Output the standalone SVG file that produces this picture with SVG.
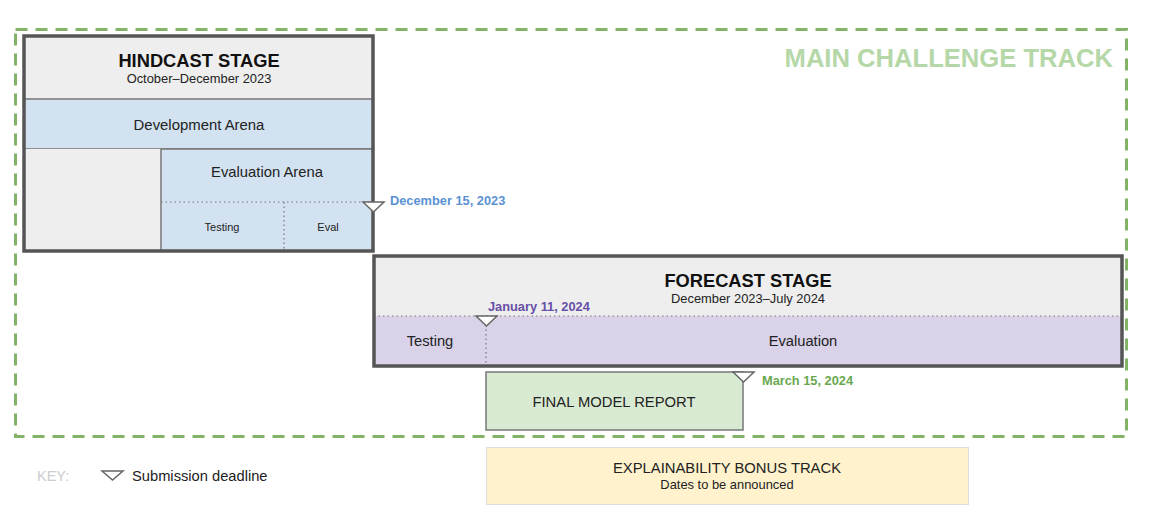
<svg xmlns="http://www.w3.org/2000/svg" width="1164" height="516" viewBox="0 0 1164 516">
<defs>
<style>
text{font-family:"Liberation Sans",Arial,sans-serif;fill:#222}
.b{font-weight:bold}
.stage{fill:none;stroke:#555;stroke-width:3.5}
.thin{stroke:#777;stroke-width:1.5}
.dot{stroke:#777;stroke-width:1.2;stroke-dasharray:1.5 3;fill:none}
.tri{fill:#fff;stroke:#666;stroke-width:1.5}
</style>
</defs>
<rect width="1164" height="516" fill="#fff"/>
<g id="main-track">
<rect x="15.5" y="29.5" width="1111" height="407" fill="none" stroke="#82b366" stroke-width="3" stroke-dasharray="12 8"/>
<text x="1113" y="67" text-anchor="end" class="b" font-size="25.6" style="fill:#b6d7a8">MAIN CHALLENGE TRACK</text>
</g>
<g id="hindcast">
<rect x="24" y="36" width="349" height="63" fill="#eeeeee"/>
<rect x="24" y="99" width="349" height="50" fill="#d3e2f1" class="thin"/>
<rect x="24" y="149" width="137" height="102" fill="#eeeeee"/>
<rect x="161" y="149" width="212" height="102" fill="#d3e2f1" class="thin"/>
<line x1="161" y1="202" x2="373" y2="202" class="dot"/>
<line x1="284" y1="202" x2="284" y2="251" class="dot"/>
<rect x="24" y="36" width="349" height="215" class="stage"/>
<text x="199" y="67" text-anchor="middle" class="b" font-size="18.3" style="fill:#111">HINDCAST STAGE</text>
<text x="199" y="83" text-anchor="middle" font-size="12.9">October–December 2023</text>
<text x="199" y="130" text-anchor="middle" font-size="14.9">Development Arena</text>
<text x="267" y="177" text-anchor="middle" font-size="14.8">Evaluation Arena</text>
<text x="222" y="231" text-anchor="middle" font-size="11">Testing</text>
<text x="328" y="231" text-anchor="middle" font-size="11">Eval</text>
</g>
<g id="deadline-dec15">
<polygon points="363,202 384,202 373.5,212" class="tri"/>
<text x="390" y="205" class="b" font-size="12.8" style="fill:#5b92d3">December 15, 2023</text>
</g>
<g id="forecast">
<rect x="374" y="256" width="748" height="60" fill="#eeeeee"/>
<rect x="374" y="316" width="748" height="50" fill="#d9d2e9"/>
<line x1="374" y1="316" x2="1122" y2="316" class="dot"/>
<line x1="486" y1="316" x2="486" y2="366" class="dot"/>
<rect x="374" y="256" width="748" height="110" class="stage"/>
<text x="748" y="287" text-anchor="middle" class="b" font-size="18.3" style="fill:#111">FORECAST STAGE</text>
<text x="748" y="303" text-anchor="middle" font-size="12.9">December 2023–July 2024</text>
<text x="430" y="346" text-anchor="middle" font-size="14.7">Testing</text>
<text x="803" y="346" text-anchor="middle" font-size="14.7">Evaluation</text>
</g>
<g id="deadline-jan11">
<polygon points="476,316 497,316 486.5,326" class="tri"/>
<text x="488" y="311" class="b" font-size="12.8" style="fill:#674ea7">January 11, 2024</text>
</g>
<g id="final-report">
<rect x="486" y="372" width="257" height="58" fill="#d9ead3" class="thin"/>
<text x="614" y="407" text-anchor="middle" font-size="14.8">FINAL MODEL REPORT</text>
</g>
<g id="deadline-mar15">
<polygon points="733,372 754,372 743.5,382" class="tri"/>
<text x="762" y="385" class="b" font-size="12.8" style="fill:#6aa84f">March 15, 2024</text>
</g>
<g id="bonus-track">
<rect x="486.5" y="447.5" width="482" height="57" fill="#fff2cc" stroke="#ddd" stroke-width="1"/>
<text x="727" y="473" text-anchor="middle" font-size="14.8">EXPLAINABILITY BONUS TRACK</text>
<text x="727" y="489" text-anchor="middle" font-size="12.9">Dates to be announced</text>
</g>
<g id="key">
<text x="37" y="481" font-size="14.5" style="fill:#cccccc">KEY:</text>
<polygon points="102,471 123,471 112.5,480" class="tri"/>
<text x="132" y="481" font-size="14.7">Submission deadline</text>
</g>
</svg>
